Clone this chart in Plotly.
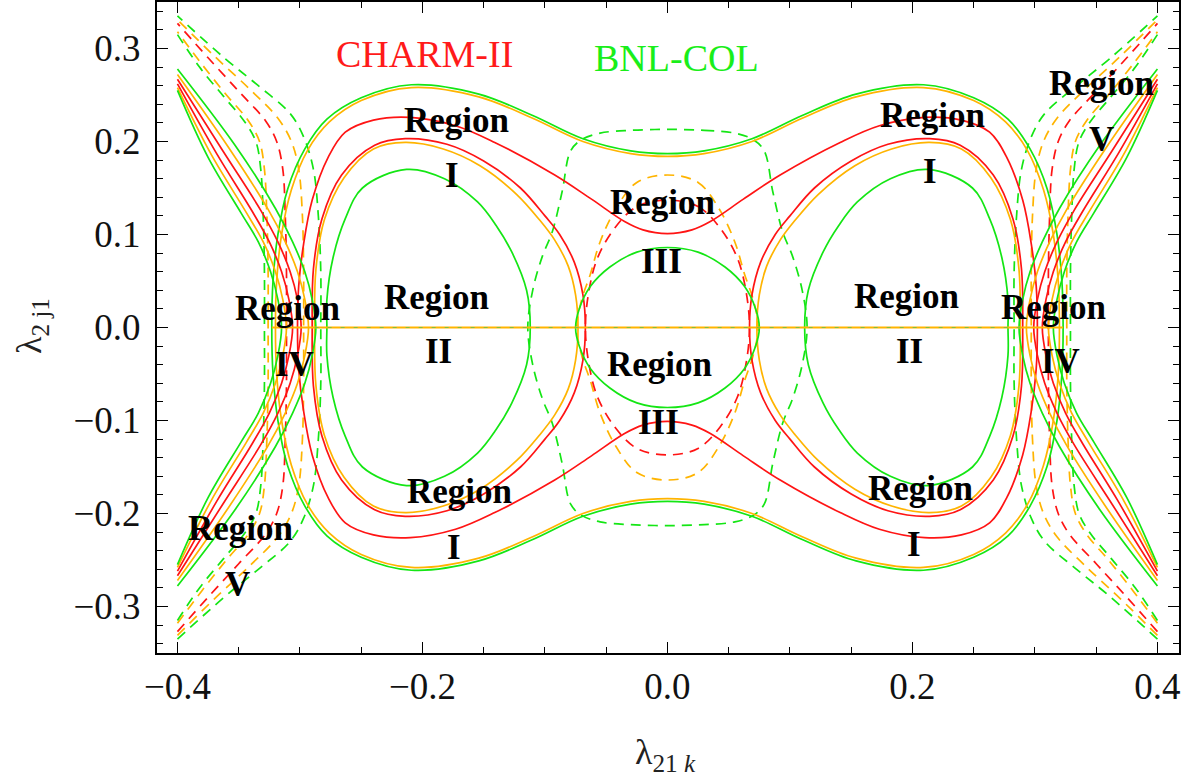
import plotly.graph_objects as go

# ---------------- data (first quadrant, x=λ21k, y=λ2j1) ----------------
# solid curves
green_center_x = [0.0, 0.025, 0.047, 0.063, 0.072, 0.075]
green_center_y = [0.086, 0.081, 0.065, 0.044, 0.020, 0.0]

green_oval_x = [0.112, 0.115, 0.127, 0.140, 0.155, 0.182, 0.213, 0.249, 0.263, 0.273, 0.278, 0.278]
green_oval_y = [0.0, 0.040, 0.081, 0.110, 0.135, 0.160, 0.170, 0.150, 0.117, 0.075, 0.030, 0.0]

green_peanut_x = [0.0, 0.030, 0.069, 0.110, 0.154, 0.209, 0.250, 0.278, 0.296, 0.310, 0.318, 0.322, 0.323]
green_peanut_y = [0.187, 0.190, 0.203, 0.228, 0.251, 0.261, 0.247, 0.224, 0.192, 0.149, 0.100, 0.050, 0.0]

orange_peanut_x = [0.0, 0.030, 0.069, 0.110, 0.154, 0.209, 0.250, 0.276, 0.294, 0.307, 0.315, 0.319, 0.320]
orange_peanut_y = [0.184, 0.187, 0.200, 0.225, 0.248, 0.258, 0.244, 0.221, 0.190, 0.148, 0.100, 0.050, 0.0]

red_peanut_x = [0.0, 0.020, 0.035, 0.062, 0.092, 0.141, 0.173, 0.210, 0.240, 0.263, 0.277, 0.290, 0.297, 0.301, 0.302]
red_peanut_y = [0.101, 0.105, 0.114, 0.138, 0.164, 0.199, 0.217, 0.226, 0.223, 0.210, 0.183, 0.137, 0.090, 0.045, 0.0]

red_oval_x = [0.067, 0.069, 0.076, 0.088, 0.100, 0.120, 0.150, 0.180, 0.214, 0.239, 0.266, 0.282, 0.289, 0.290]
red_oval_y = [0.0, 0.035, 0.070, 0.100, 0.120, 0.150, 0.179, 0.197, 0.203, 0.196, 0.164, 0.117, 0.063, 0.0]

orange_oval_x = [0.073, 0.075, 0.081, 0.092, 0.104, 0.123, 0.153, 0.183, 0.214, 0.240, 0.264, 0.280, 0.287, 0.288]
orange_oval_y = [0.0, 0.035, 0.066, 0.094, 0.115, 0.143, 0.174, 0.192, 0.199, 0.192, 0.161, 0.116, 0.062, 0.0]

# open solid branches: vertex on the axis -> edge of the plot
green_branch1_x = [0.287, 0.290, 0.296, 0.306, 0.320, 0.353, 0.400]
green_branch1_y = [0.0, 0.030, 0.060, 0.092, 0.128, 0.196, 0.278]
orange_branch1_x = [0.293, 0.296, 0.302, 0.312, 0.326, 0.358, 0.400]
orange_branch1_y = [0.0, 0.030, 0.060, 0.092, 0.127, 0.193, 0.272]
red_branch1_x = [0.299, 0.302, 0.308, 0.318, 0.332, 0.363, 0.400]
red_branch1_y = [0.0, 0.030, 0.060, 0.092, 0.126, 0.190, 0.267]
red_branch2_x = [0.306, 0.309, 0.315, 0.325, 0.339, 0.368, 0.400]
red_branch2_y = [0.0, 0.030, 0.060, 0.092, 0.125, 0.187, 0.262]
orange_branch2_x = [0.311, 0.314, 0.320, 0.330, 0.344, 0.372, 0.400]
orange_branch2_y = [0.0, 0.030, 0.060, 0.092, 0.124, 0.185, 0.258]
green_branch2_x = [0.315, 0.318, 0.324, 0.334, 0.348, 0.375, 0.400]
green_branch2_y = [0.0, 0.030, 0.060, 0.092, 0.123, 0.183, 0.255]

# dashed curves
green_dash_center_x = [0.0, 0.030, 0.055, 0.070, 0.079, 0.086, 0.094, 0.102, 0.110, 0.114]
green_dash_center_y = [0.213, 0.212, 0.209, 0.202, 0.190, 0.146, 0.103, 0.077, 0.040, 0.0]
red_dash_center_x = [0.0, 0.025, 0.043, 0.057, 0.064, 0.067]
red_dash_center_y = [0.137, 0.130, 0.107, 0.075, 0.040, 0.0]
orange_dash_center_x = [0.0, 0.025, 0.042, 0.055, 0.063, 0.070, 0.074]
orange_dash_center_y = [0.164, 0.156, 0.128, 0.092, 0.057, 0.030, 0.0]

green_dash_branch1_x = [0.283, 0.283, 0.285, 0.289, 0.297, 0.308, 0.334, 0.361, 0.400]
green_dash_branch1_y = [0.0, 0.060, 0.120, 0.170, 0.205, 0.230, 0.260, 0.289, 0.335]
orange_dash_branch1_x = [0.297, 0.297, 0.298, 0.301, 0.307, 0.318, 0.340, 0.370, 0.400]
orange_dash_branch1_y = [0.0, 0.060, 0.120, 0.170, 0.200, 0.225, 0.255, 0.292, 0.331]
red_dash_branch1_x = [0.311, 0.311, 0.312, 0.314, 0.319, 0.328, 0.350, 0.375, 0.400]
red_dash_branch1_y = [0.0, 0.060, 0.120, 0.170, 0.200, 0.222, 0.254, 0.290, 0.327]
orange_dash_branch2_x = [0.326, 0.326, 0.327, 0.329, 0.333, 0.342, 0.360, 0.380, 0.400]
orange_dash_branch2_y = [0.0, 0.060, 0.120, 0.170, 0.200, 0.222, 0.250, 0.283, 0.318]
green_dash_branch2_x = [0.329, 0.329, 0.330, 0.332, 0.336, 0.345, 0.362, 0.382, 0.400]
green_dash_branch2_y = [0.0, 0.060, 0.120, 0.170, 0.200, 0.221, 0.248, 0.280, 0.315]

# straight pieces on the λ2j1 = 0 axis
orange_axis_x = [-0.323, 0.323]
green_dash_axis_x = [-0.288, 0.288]

# tick values
x_ticks = [-0.4, -0.2, 0.0, 0.2, 0.4]
y_ticks = [-0.3, -0.2, -0.1, 0.0, 0.1, 0.2, 0.3]

RED = "#ff1414"
GREEN = "#14e614"
ORANGE = "#ffb400"
SERIF = "Liberation Serif"


# ---------------- helpers that mirror the quadrant readings ----------------
def closed_center(xs, ys):
    X = list(xs) + list(xs[::-1][1:]) + [-v for v in xs[1:]] + [-v for v in xs[::-1][1:]]
    Y = list(ys) + [-v for v in ys[::-1][1:]] + [-v for v in ys[1:]] + list(ys[::-1][1:])
    return X, Y


def side_ovals(xs, ys):
    X = list(xs) + list(xs[::-1][1:])
    Y = list(ys) + [-v for v in ys[::-1][1:]]
    return X + [None] + [-v for v in X], Y + [None] + Y


def branches(xs, ys):
    X = list(xs[::-1]) + list(xs[1:])
    Y = [-v for v in ys[::-1]] + list(ys[1:])
    return X + [None] + [-v for v in X], Y + [None] + Y


fig = go.Figure()


def add(XY, color, dash="solid", width=1.7):
    X, Y = XY
    fig.add_trace(go.Scatter(x=X, y=Y, mode="lines", line=dict(color=color, width=width, dash=dash,
                                                               shape="spline", smoothing=1.0),
                             hoverinfo="skip", showlegend=False))


DASH = "10px,7px"
# dashed families
add(closed_center(green_dash_center_x, green_dash_center_y), GREEN, DASH)
add(closed_center(orange_dash_center_x, orange_dash_center_y), ORANGE, DASH)
add(closed_center(red_dash_center_x, red_dash_center_y), RED, DASH)
add(branches(green_dash_branch1_x, green_dash_branch1_y), GREEN, DASH)
add(branches(orange_dash_branch1_x, orange_dash_branch1_y), ORANGE, DASH)
add(branches(red_dash_branch1_x, red_dash_branch1_y), RED, DASH)
add(branches(orange_dash_branch2_x, orange_dash_branch2_y), ORANGE, DASH)
add(branches(green_dash_branch2_x, green_dash_branch2_y), GREEN, DASH)

# solid families
add(closed_center(orange_peanut_x, orange_peanut_y), ORANGE)
add(closed_center(green_peanut_x, green_peanut_y), GREEN)
add(closed_center(red_peanut_x, red_peanut_y), RED)
add(side_ovals(orange_oval_x, orange_oval_y), ORANGE)
add(side_ovals(red_oval_x, red_oval_y), RED)
add(side_ovals(green_oval_x, green_oval_y), GREEN)
add(closed_center(green_center_x, green_center_y), GREEN)
add(branches(green_branch1_x, green_branch1_y), GREEN)
add(branches(orange_branch1_x, orange_branch1_y), ORANGE)
add(branches(red_branch1_x, red_branch1_y), RED)
add(branches(red_branch2_x, red_branch2_y), RED)
add(branches(orange_branch2_x, orange_branch2_y), ORANGE)
add(branches(green_branch2_x, green_branch2_y), GREEN)

fig.add_trace(go.Scatter(x=orange_axis_x, y=[0, 0], mode="lines", line=dict(color=ORANGE, width=1.8),
                         hoverinfo="skip", showlegend=False))
fig.add_trace(go.Scatter(x=green_dash_axis_x, y=[0, 0], mode="lines",
                         line=dict(color="#7fbf3f", width=1.0, dash="4px,9px"),
                         hoverinfo="skip", showlegend=False))

# ---------------- text ----------------
X0, Y0, SX, SY = 667.7, 326.3, 1225.0, 933.0


def px2x(p):
    return (p - X0) / SX


def px2y(p):
    return (Y0 - p) / SY


region_labels = [
    ("Region", 457, 119), ("I", 452, 174),
    ("Region", 933, 114), ("I", 930, 170),
    ("Region", 663, 201), ("III", 662, 260),
    ("Region", 660, 363), ("III", 659, 422),
    ("Region", 437, 296), ("II", 439, 350),
    ("Region", 907, 295), ("II", 910, 350),
    ("Region", 288, 307), ("IV", 295, 363),
    ("Region", 1054, 306), ("IV", 1061, 360),
    ("Region", 1102, 82), ("V", 1102, 138),
    ("Region", 241, 528), ("V", 238, 584),
    ("Region", 460, 491), ("I", 454, 547),
    ("Region", 921, 488), ("I", 914, 544),
]
for txt, px, py in region_labels:
    fig.add_annotation(x=px2x(px), y=px2y(py), xref="x", yref="y", text=txt, showarrow=False,
                       font=dict(family=SERIF, size=35, color="black", weight="bold"),
                       xanchor="center", yanchor="middle")

fig.add_annotation(x=px2x(425), y=px2y(52), xref="x", yref="y", text="CHARM-II", showarrow=False,
                   xanchor="center", yanchor="middle",
                   font=dict(family=SERIF, size=38, color="#ff1a1a"))
fig.add_annotation(x=px2x(677), y=px2y(56), xref="x", yref="y", text="BNL-COL", showarrow=False,
                   xanchor="center", yanchor="middle",
                   font=dict(family=SERIF, size=38, color="#1aee1a"))

# axis titles
fig.add_annotation(x=(31 - 157) / 1022, y=1 - 325 / 653, xref="paper", yref="paper",
                   text="λ<sub>2 j1</sub>", showarrow=False, textangle=-90,
                   xanchor="center", yanchor="middle",
                   font=dict(family=SERIF, size=36, color="#222"))
fig.add_annotation(x=(665 - 157) / 1022, y=1 - 755 / 653, xref="paper", yref="paper",
                   text="λ<sub>21 <i>k</i></sub>", showarrow=False,
                   xanchor="center", yanchor="middle",
                   font=dict(family=SERIF, size=36, color="#222"))

axis_common = dict(showline=True, linecolor="black", linewidth=2, mirror="allticks",
                   ticks="inside", ticklen=11, tickwidth=1.3, tickcolor="black",
                   showgrid=False, zeroline=False,
                   tickfont=dict(family=SERIF, size=37, color="#111"))

fig.update_xaxes(range=[-0.4167, 0.4176], tickvals=x_ticks,
                 ticktext=[f"{v:.1f}".replace("-", "−") for v in x_ticks],
                 minor=dict(dtick=0.05, tick0=0, ticklen=6, tickwidth=1.2, ticks="inside", tickcolor="black"),
                 ticklabelstandoff=0, **axis_common)
fig.update_yaxes(range=[-0.35, 0.35], tickvals=y_ticks,
                 ticktext=[f"{v:.1f}".replace("-", "−") for v in y_ticks],
                 minor=dict(dtick=0.02, tick0=0, ticklen=6, tickwidth=1.2, ticks="inside", tickcolor="black"),
                 ticklabelstandoff=7, **axis_common)

fig.update_layout(width=1188, height=778, margin=dict(l=157, r=9, t=0, b=125),
                  paper_bgcolor="white", plot_bgcolor="white")

fig.write_html("out.html")
